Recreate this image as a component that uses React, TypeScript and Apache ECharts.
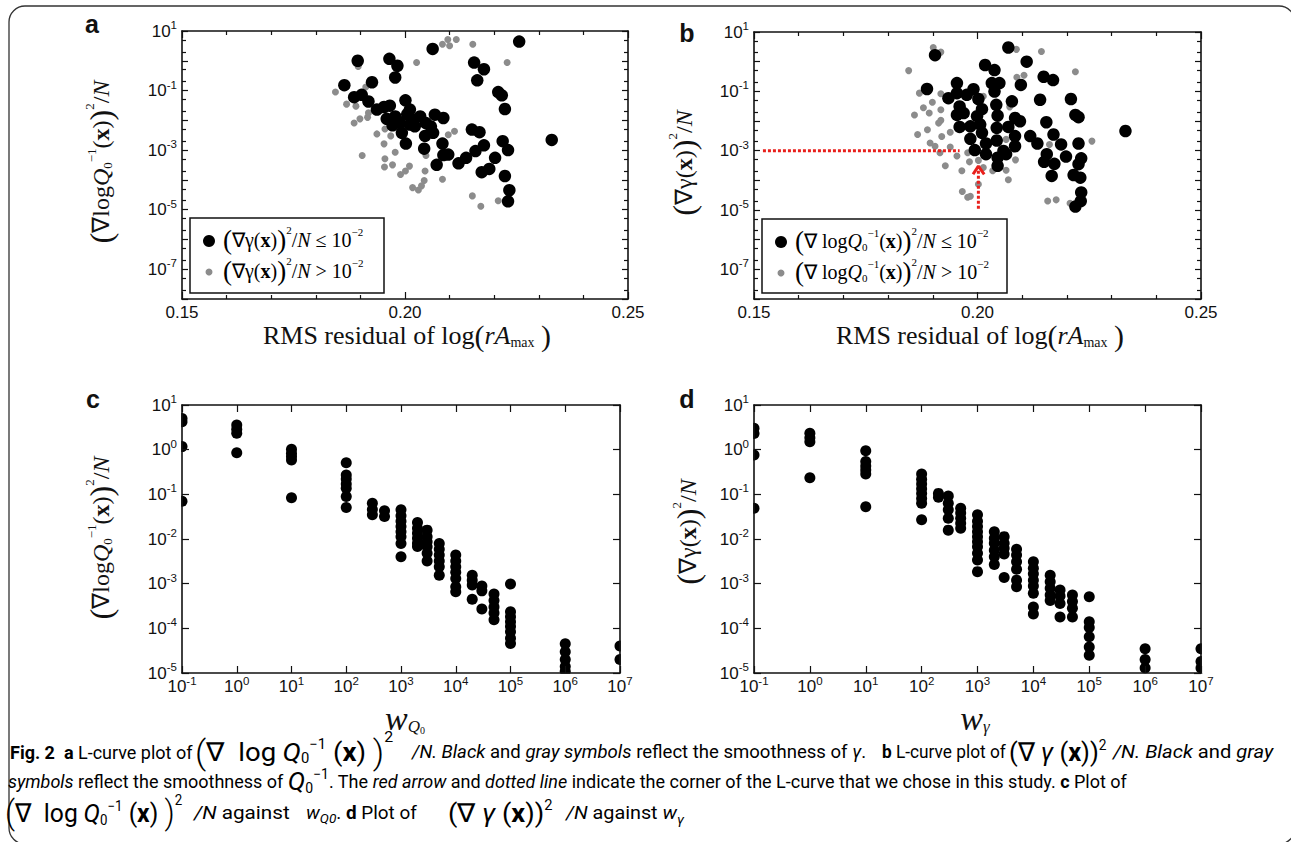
import React, { useEffect, useRef } from "react";
import * as echarts from "echarts";

const SANS = "'Liberation Sans', Arial, Helvetica, sans-serif";
const SERIF = "'Liberation Serif', 'Times New Roman', serif";
const CAP = "Roboto, 'Noto Sans', sans-serif";

// ---------- Panel a: RMS residual vs (∇logQ0^-1(x))^2/N ----------
const aBlack: number[][] = [
  [0.2256, 4.4], [0.2062, 2.5], [0.1894, 1.0], [0.1965, 1.16], [0.1983, 0.68], [0.1978, 0.275],
  [0.1926, 0.19], [0.1864, 0.152], [0.2155, 0.87], [0.2177, 0.52], [0.2162, 0.22], [0.2209, 0.089],
  [0.2217, 0.069], [0.2224, 0.024], [0.1886, 0.06], [0.1903, 0.072], [0.1918, 0.043], [0.1937, 0.023],
  [0.1953, 0.028], [0.1966, 0.031], [0.2001, 0.047], [0.1959, 0.0112], [0.1978, 0.0135], [0.1989, 0.0081],
  [0.2011, 0.023], [0.2011, 0.0072], [0.2034, 0.0135], [0.2047, 0.0081], [0.2067, 0.0155], [0.2086, 0.012],
  [0.1993, 0.0038], [0.2045, 0.003], [0.2063, 0.0038], [0.2002, 0.00166], [0.2043, 0.00112], [0.2084, 0.00166],
  [0.2086, 0.00068], [0.2097, 0.00071], [0.2071, 0.00032], [0.212, 0.00036], [0.2137, 0.00055], [0.215, 0.0049],
  [0.2167, 0.004], [0.2158, 0.00093], [0.2177, 0.00145], [0.2172, 0.000182], [0.2189, 0.000234], [0.2202, 0.00055],
  [0.2219, 0.002], [0.2231, 0.001], [0.2224, 0.000135], [0.2234, 0.000045], [0.2231, 0.000019], [0.2329, 0.0022],
  [0.2018, 0.0105], [0.1981, 0.0105], [0.2022, 0.0063], [0.1972, 0.0068], [0.2005, 0.016], [0.2058, 0.0062],
];
const aGray: number[][] = [
  [0.1844, 0.089], [0.1869, 0.035], [0.189, 0.03], [0.1886, 0.0081], [0.1899, 0.0112], [0.1916, 0.0126],
  [0.1918, 0.0178], [0.1937, 0.0035], [0.1953, 0.00162], [0.1968, 0.003], [0.1955, 0.0051], [0.1904, 0.00066],
  [0.1955, 0.00051], [0.1954, 0.00027], [0.1972, 0.00032], [0.1978, 0.00085], [0.199, 0.000151], [0.2001, 0.0002],
  [0.201, 0.00029], [0.2017, 0.000055], [0.203, 0.000046], [0.2037, 0.000063], [0.2043, 0.000096], [0.2045, 0.0002],
  [0.2047, 0.00066], [0.2084, 0.000105], [0.2097, 0.0033], [0.2111, 0.0043], [0.2151, 0.000029], [0.217, 0.000013],
  [0.2209, 0.00002], [0.1895, 0.64], [0.1912, 0.132], [0.2026, 0.87], [0.2084, 3.6], [0.2096, 5.2],
  [0.21, 3.2], [0.2115, 5.2], [0.2152, 3.6], [0.2229, 0.87],
];

// ---------- Panel b: RMS residual vs (∇γ(x))^2/N ----------
const bBlack: number[][] = [
  [0.2069, 3.0], [0.1905, 1.66], [0.211, 1.0], [0.2017, 0.77], [0.2038, 0.52], [0.1887, 0.12],
  [0.1954, 0.19], [0.2032, 0.19], [0.2049, 0.19], [0.2097, 0.165], [0.2148, 0.31], [0.2169, 0.24],
  [0.2038, 0.098], [0.1935, 0.059], [0.1954, 0.087], [0.1976, 0.076], [0.1991, 0.118], [0.2002, 0.055],
  [0.2077, 0.046], [0.214, 0.052], [0.2209, 0.055], [0.196, 0.031], [0.201, 0.025], [0.2042, 0.035],
  [0.1954, 0.016], [0.1969, 0.0185], [0.1999, 0.0145], [0.2045, 0.0151], [0.2219, 0.016], [0.2226, 0.0135],
  [0.2084, 0.0126], [0.2095, 0.0098], [0.2154, 0.0091], [0.196, 0.0063], [0.1984, 0.0066], [0.2006, 0.0076],
  [0.2043, 0.0059], [0.2069, 0.0063], [0.201, 0.004], [0.1984, 0.0025], [0.2043, 0.0022], [0.2084, 0.0031],
  [0.2118, 0.0031], [0.2134, 0.00174], [0.217, 0.0035], [0.2187, 0.00162], [0.2226, 0.00174], [0.2019, 0.00174],
  [0.2084, 0.00141], [0.1994, 0.00105], [0.2019, 0.00076], [0.2058, 0.00098], [0.2064, 0.00076], [0.2045, 0.00058],
  [0.2045, 0.00031], [0.2155, 0.00076], [0.2149, 0.00042], [0.2172, 0.00036], [0.2198, 0.00063], [0.2232, 0.00055],
  [0.2226, 0.00035], [0.2166, 0.000141], [0.2215, 0.000151], [0.223, 0.000123], [0.2232, 0.000039], [0.2231, 0.00002],
  [0.2219, 0.000013], [0.2331, 0.0046],
];
const bGray: number[][] = [
  [0.1901, 3.0], [0.1918, 2.1], [0.1846, 0.5], [0.2087, 2.6], [0.2143, 2.2], [0.2219, 0.46],
  [0.2088, 0.3], [0.2104, 0.35], [0.187, 0.087], [0.1918, 0.083], [0.1899, 0.043], [0.1879, 0.028],
  [0.1892, 0.0185], [0.1859, 0.016], [0.1918, 0.024], [0.1918, 0.0105], [0.1913, 0.0085], [0.1888, 0.0051],
  [0.1866, 0.0035], [0.192, 0.003], [0.1939, 0.0042], [0.1894, 0.00182], [0.1905, 0.00141], [0.1939, 0.00132],
  [0.1916, 0.00085], [0.1954, 0.00066], [0.1928, 0.00031], [0.1965, 0.00021], [0.1982, 0.00042], [0.1978, 0.00085],
  [0.2002, 0.00047], [0.2013, 0.00027], [0.2002, 0.000074], [0.1966, 0.000042], [0.1978, 0.000027], [0.1984, 0.000029],
  [0.2034, 0.00021], [0.2064, 0.00022], [0.2069, 0.000105], [0.2085, 0.00049], [0.2064, 0.0024], [0.2161, 0.00162],
  [0.2256, 0.0021], [0.2157, 0.00002], [0.2176, 0.000022], [0.2207, 0.000017], [0.2072, 0.03], [0.2013, 0.068],
];
// corner of the L-curve (red dotted line and arrow)
const bCornerH: number[][] = [[0.152, 0.001], [0.196, 0.001]];
const bCornerV: number[][] = [[0.2002, 0.000011], [0.2002, 0.00029]];
const bArrowHead: number[][] = [[0.199, 0.00016], [0.2002, 0.0003], [0.2015, 0.00016]];

// ---------- Panel c: w_Q0 vs (∇logQ0^-1(x))^2/N ----------
const wC = [0.1, 1, 10, 100, 300, 500, 1e3, 2e3, 3e3, 5e3, 1e4, 2e4, 3e4, 5e4, 1e5, 1e6, 1e7];
const gradC: number[][] = [
  [5.0, 4.2, 1.17, 0.07],
  [3.56, 2.86, 2.32, 0.855],
  [1.02, 0.83, 0.7, 0.59, 0.084],
  [0.51, 0.27, 0.22, 0.17, 0.136, 0.089, 0.051],
  [0.063, 0.046, 0.035],
  [0.043, 0.032],
  [0.045, 0.033, 0.025, 0.019, 0.0145, 0.0113, 0.0079, 0.004],
  [0.0234, 0.0174, 0.0134, 0.0104, 0.008, 0.0068],
  [0.0158, 0.0113, 0.0087, 0.0067, 0.0048, 0.0032],
  [0.0079, 0.0059, 0.0044, 0.0032, 0.0024, 0.00155],
  [0.0044, 0.0032, 0.0024, 0.0018, 0.0013, 0.00085, 0.00066],
  [0.00155, 0.0012, 0.00093, 0.00045],
  [0.00089, 0.00069, 0.00027],
  [0.00059, 0.00042, 0.0003, 0.00022, 0.000155],
  [0.00098, 0.000234, 0.000182, 0.000141, 0.00011, 0.000084, 0.00006, 0.000046],
  [0.000045, 0.00003, 0.00002, 0.000014, 0.000011],
  [0.00004, 0.00002],
];

// ---------- Panel d: w_γ vs (∇γ(x))^2/N ----------
const wD = [0.1, 1, 10, 100, 200, 300, 500, 1e3, 2e3, 3e3, 5e3, 1e4, 2e4, 3e4, 5e4, 1e5, 1e6, 1e7];
const gradD: number[][] = [
  [3.0, 2.3, 0.76, 0.049],
  [2.32, 1.86, 1.51, 0.236],
  [0.95, 0.54, 0.43, 0.35, 0.285, 0.053],
  [0.285, 0.217, 0.17, 0.134, 0.105, 0.081, 0.063, 0.027],
  [0.105, 0.086],
  [0.092, 0.063, 0.045, 0.029, 0.0158],
  [0.049, 0.038, 0.029, 0.0224, 0.0174],
  [0.035, 0.025, 0.019, 0.0145, 0.0113, 0.0087, 0.0067, 0.0048, 0.0034, 0.00186],
  [0.0145, 0.0104, 0.008, 0.0056, 0.004, 0.0027],
  [0.0113, 0.008, 0.0062, 0.0046, 0.00137],
  [0.0059, 0.0044, 0.0031, 0.0021, 0.0012, 0.00085],
  [0.0031, 0.0022, 0.00166, 0.0012, 0.00089, 0.00061, 0.0003, 0.00021],
  [0.00155, 0.0011, 0.00079, 0.00056, 0.00042],
  [0.00072, 0.00053, 0.00036, 0.00018],
  [0.00056, 0.0004, 0.00028, 0.00018],
  [0.00051, 0.000141, 0.000105, 0.000065, 0.000038, 0.000025],
  [0.000035, 0.00002, 0.000013],
  [0.000035, 0.000018, 0.000013],
];

// ---------- axis ranges and tick labels ----------
const rmsRange = [0.15, 0.25];
const lcRange = [1e-8, 10];
const lcLabelExps = [1, -1, -3, -5, -7];
const wRange = [0.1, 1e7];
const wLabelExps = [-1, 0, 1, 2, 3, 4, 5, 6, 7];
const gRange = [1e-5, 10];
const gLabelExps = [1, 0, -1, -2, -3, -4, -5];

const pairs = (xs: number[], ys: number[][]) => {
  const out: number[][] = [];
  xs.forEach((x, i) => ys[i].forEach((y) => out.push([x, y])));
  return out;
};

const INK = "#111";
const tickRich = {
  b: { fontFamily: SANS, fontSize: 17, lineHeight: 17, verticalAlign: "middle", color: INK },
  s: { fontFamily: SANS, fontSize: 11.5, lineHeight: 12, verticalAlign: "middle", padding: [0, 0, 12, 0], color: INK },
};
const expLabel = (allowed: number[]) => (v: number) => {
  const e = Math.round(Math.log10(v));
  return allowed.includes(e) ? `{b|10}{s|${e}}` : "";
};

function mathRich(fs: number, pf = 1.35, lh = 1.3) {
  const sm = Math.round(fs * 0.55);
  return {
    n: { fontFamily: SERIF, fontSize: fs, lineHeight: fs * lh, verticalAlign: "middle", color: INK },
    i: { fontFamily: SERIF, fontSize: fs, lineHeight: fs * lh, fontStyle: "italic", verticalAlign: "middle", color: INK },
    bx: { fontFamily: SERIF, fontSize: fs, lineHeight: fs * lh, fontWeight: "bold", verticalAlign: "middle", color: INK },
    p: { fontFamily: SERIF, fontSize: fs * pf, lineHeight: fs * pf, verticalAlign: "middle", color: INK },
    s: { fontFamily: SERIF, fontSize: sm, lineHeight: sm, verticalAlign: "middle", padding: [0, 0, fs * 0.8, 0], color: INK },
    ss: { fontFamily: SERIF, fontSize: sm, lineHeight: sm, verticalAlign: "middle", padding: [0, 0, fs * 1.0, 0], color: INK },
    sb: { fontFamily: SERIF, fontSize: sm, lineHeight: sm, verticalAlign: "middle", padding: [fs * 0.55, 0, 0, 0], color: INK },
  };
}

const grids = [
  { left: 182, top: 31, width: 446, height: 268 },
  { left: 754, top: 32, width: 447, height: 267 },
  { left: 182, top: 405, width: 438, height: 268 },
  { left: 754, top: 405, width: 447, height: 268 },
];

const axisLineStyle = { color: INK, width: 1.6 };
const tickLine = { color: INK, width: 1.2 };

function minorLogValues(lo: number, hi: number) {
  const out: number[] = [];
  for (let e = lo; e < hi; e++) out.push(2 * Math.pow(10, e), 5 * Math.pow(10, e));
  return out;
}

export default function App() {
  const ref = useRef<HTMLDivElement>(null);
  useEffect(() => {
    if (!ref.current) return;
    const chart = echarts.init(ref.current, undefined, { renderer: "svg" });

    const xAxis: any[] = [];
    const yAxis: any[] = [];
    const idx: { x: number; y: number }[] = [];

    grids.forEach((_, gi) => {
      const isLc = gi < 2;
      const xi = xAxis.length;
      const xBase: any = isLc
        ? {
            type: "value", min: rmsRange[0], max: rmsRange[1], interval: 0.05,
            minorTick: { show: true, splitNumber: 5, length: 4, lineStyle: tickLine },
          }
        : { type: "log", logBase: 10, min: wRange[0], max: wRange[1], interval: 1 };
      xAxis.push({
        ...xBase, gridIndex: gi, position: "bottom", z: 10,
        axisLine: { show: true, onZero: false, lineStyle: axisLineStyle },
        axisTick: { show: true, inside: true, length: 7, lineStyle: tickLine },
        splitLine: { show: false },
        axisLabel: isLc
          ? { margin: 5, color: INK, fontFamily: SANS, fontSize: 17, lineHeight: 17, formatter: (v: number) => v.toFixed(2) }
          : { margin: 5, formatter: expLabel(wLabelExps), rich: tickRich },
      });
      xAxis.push({
        ...xBase, gridIndex: gi, position: "top", z: 10,
        axisLine: { show: true, onZero: false, lineStyle: axisLineStyle },
        axisTick: { show: true, inside: true, length: 7, lineStyle: tickLine },
        splitLine: { show: false },
        axisLabel: { show: false },
      });
      const yi = yAxis.length;
      const yBase: any = isLc
        ? { type: "log", logBase: 10, min: lcRange[0], max: lcRange[1], interval: 1 }
        : { type: "log", logBase: 10, min: gRange[0], max: gRange[1], interval: 1 };
      yAxis.push({
        ...yBase, gridIndex: gi, position: "left", z: 10,
        axisLine: { show: true, onZero: false, lineStyle: axisLineStyle },
        axisTick: { show: true, inside: true, length: isLc ? 6 : 7, lineStyle: tickLine },
        splitLine: { show: false },
        axisLabel: { margin: 5, formatter: expLabel(isLc ? lcLabelExps : gLabelExps), rich: tickRich },
      });
      yAxis.push({
        ...yBase, gridIndex: gi, position: "right", z: 10,
        axisLine: { show: true, onZero: false, lineStyle: axisLineStyle },
        axisTick: { show: true, inside: true, length: isLc ? 6 : 7, lineStyle: tickLine },
        splitLine: { show: false },
        axisLabel: { show: false },
      });
      if (isLc) {
        const minors = minorLogValues(-8, 1);
        ["left", "right"].forEach((pos) =>
          yAxis.push({
            ...yBase, gridIndex: gi, position: pos, z: 10,
            axisLine: { show: false },
            axisTick: { show: true, inside: true, length: 4, lineStyle: tickLine, customValues: minors },
            splitLine: { show: false },
            axisLabel: { show: false },
          })
        );
      }
      idx.push({ x: xi, y: yi });
    });

    const scatter = (gi: number, data: number[][], size: number, color: string, z: number) => ({
      type: "scatter", xAxisIndex: idx[gi].x, yAxisIndex: idx[gi].y, data,
      symbol: "circle", symbolSize: size, itemStyle: { color, opacity: 1 }, z,
    });
    const redLine = (data: number[][], dotted: boolean) => ({
      type: "line", xAxisIndex: idx[1].x, yAxisIndex: idx[1].y, data, symbol: "none", z: 5,
      lineStyle: { color: "#e8201c", width: 3, type: dotted ? [3, 2] : "solid" },
    });

    const series: any[] = [
      scatter(0, aGray, 7, "#8c8c8c", 2),
      scatter(0, aBlack, 12.5, "#000", 3),
      scatter(1, bGray, 7, "#8c8c8c", 2),
      scatter(1, bBlack, 12.5, "#000", 3),
      redLine(bCornerH, true),
      redLine(bCornerV, true),
      redLine(bArrowHead, false),
      scatter(2, pairs(wC, gradC), 11, "#000", 3),
      scatter(3, pairs(wD, gradD), 11, "#000", 3),
    ];

    const r24 = mathRich(24);
    const r20 = mathRich(20);
    const rX = mathRich(26, 1.15, 1.0);

    const yTitleLogQ = "{p|(}{n|∇log}{i|Q}{sb|0}{s|−1}{n|(}{bx|x}{n|)}{p|)}{ss|2}{n|/}{i|N}";
    const yTitleGamma = "{p|(}{n|∇γ(}{bx|x}{n|)}{p|)}{ss|2}{n|/}{i|N}";

    const rotText = (x: number, y: number, text: string, rich: any) => ({
      type: "text", x, y, rotation: Math.PI / 2,
      style: { text, rich, align: "center", verticalAlign: "middle", fill: INK },
    });
    const plainText = (x: number, y: number, text: string, rich: any, align = "center") => ({
      type: "text", x, y,
      style: { text, rich, align, verticalAlign: "middle", fill: INK },
    });
    const letter = (x: number, y: number, t: string) => ({
      type: "text", x, y,
      style: { text: t, fontFamily: SANS, fontWeight: "bold", fontSize: 25, fill: INK, align: "center", verticalAlign: "bottom" },
    });

    const legend = (x: number, y: number, w: number, h: number, t1: string, t2: string) => ({
      type: "group", z: 50,
      children: [
        { type: "rect", shape: { x, y, width: w, height: h }, style: { fill: "#fff", stroke: INK, lineWidth: 1.5 } },
        { type: "circle", shape: { cx: x + 19, cy: y + 23, r: 6 }, style: { fill: "#000" } },
        { type: "circle", shape: { cx: x + 19, cy: y + 54, r: 3.5 }, style: { fill: "#8c8c8c" } },
        { type: "text", x: x + 33, y: y + 22, style: { text: t1, rich: r20, align: "left", verticalAlign: "middle" } },
        { type: "text", x: x + 33, y: y + 53, style: { text: t2, rich: r20, align: "left", verticalAlign: "middle" } },
      ],
    });

    const xTitleRms = "{n|RMS residual of log}{p|(}{i|rA}{sb|max}{n| }{p|)}";

    // white strips that trim the symbols lying on the frame of c and d
    const strips: any[] = [];
    [2, 3].forEach((gi) => {
      const g = grids[gi];
      strips.push(
        { type: "rect", z: 5, silent: true, shape: { x: g.left - 6.5, y: g.top, width: 5.7, height: g.height }, style: { fill: "#fff" } },
        { type: "rect", z: 5, silent: true, shape: { x: g.left + g.width + 0.8, y: g.top, width: 6, height: g.height }, style: { fill: "#fff" } },
        { type: "rect", z: 5, silent: true, shape: { x: g.left, y: g.top + g.height + 0.8, width: g.width, height: 4.5 }, style: { fill: "#fff" } },
      );
    });

    // caption
    const capBase = { fontFamily: CAP, fontSize: 18, lineHeight: 22, verticalAlign: "middle", color: INK };
    const mBase = { fontFamily: CAP, fontSize: 26, lineHeight: 26, verticalAlign: "middle", color: INK };
    const capRich: any = {
      r: { ...capBase },
      bd: { ...capBase, fontWeight: "bold" },
      it: { ...capBase, fontStyle: "italic" },
      m: { ...mBase },
      mi: { ...mBase, fontStyle: "italic" },
      mb: { ...mBase, fontWeight: "bold" },
      bp: { fontFamily: CAP, fontSize: 33, lineHeight: 30, verticalAlign: "middle", color: INK, fontWeight: 300 },
      ms: { fontFamily: CAP, fontSize: 14, lineHeight: 14, verticalAlign: "middle", padding: [0, 0, 15, 0], color: INK },
      ss: { fontFamily: CAP, fontSize: 15, lineHeight: 15, verticalAlign: "middle", padding: [0, 0, 30, 0], color: INK },
      ss3: { fontFamily: CAP, fontSize: 14, lineHeight: 14, verticalAlign: "middle", padding: [0, 0, 27, 0], color: INK },
      msb: { fontFamily: CAP, fontSize: 14, lineHeight: 14, verticalAlign: "middle", padding: [13, 0, 0, 0], color: INK },
      sbi: { fontFamily: CAP, fontSize: 13, lineHeight: 13, fontStyle: "italic", verticalAlign: "middle", padding: [12, 0, 0, 0], color: INK },
    };
    const capQ = (sup: string) => `{bp|(}{m|∇  log }{mi|Q}{msb|0}{ms|−1}{m| (}{mb|x}{m|) }{bp|)}{${sup}|2}`;
    const capG = "{m|(∇ }{mi|γ}{m| (}{mb|x}{m|))}{ms|2}";
    const capSegs: [number, number, string, number][] = [
      [10, 752, "{bd|Fig. 2}{r|  }{bd|a}{r| L-curve plot of}", 1],
      [195, 752, capQ("ss"), 1.06],
      [412, 752, "{it|/N. Black}{r| and }{it|gray symbols}{r| reflect the smoothness of }{it|γ}{r|.}", 1.03],
      [882, 752, "{bd|b}{r| L-curve plot of}", 0.96],
      [1009, 752, capG, 0.98],
      [1113, 752, "{it|/N. Black}{r| and }{it|gray}", 1.12],
      [8, 781, "{it|symbols}{r| reflect the smoothness of }{mi|Q}{msb|0}{ms|−1}{r|. The }{it|red arrow}{r| and }{it|dotted line}" +
        "{r| indicate the corner of the L-curve that we chose in this study. }{bd|c}{r| Plot of}", 1],
      [5, 813, capQ("ss3"), 0.95],
      [194, 813, "{it|/N}{r| against}", 1.15],
      [306, 813, "{it|w}{sbi|Q0}{r|. }{bd|d}{r| Plot of }", 1.05],
      [448, 813, capG, 1.05],
      [566, 813, "{it|/N}{r| against }{it|w}{sbi|γ}", 1.1],
    ];

    const graphic: any[] = [
      {
        type: "rect", z: -10, silent: true,
        shape: { x: 9, y: 6, width: 1286, height: 838, r: 16 },
        style: { fill: "none", stroke: "#333", lineWidth: 1.3 },
      },
      ...strips,
      letter(92, 36, "a"),
      letter(687, 45, "b"),
      letter(93, 411, "c"),
      letter(687, 411, "d"),
      rotText(101, 162, yTitleLogQ, r24),
      rotText(684, 163, yTitleGamma, r24),
      rotText(101, 538, yTitleLogQ, r24),
      rotText(688, 532, yTitleGamma, r24),
      plainText(407, 335, xTitleRms, rX),
      plainText(980, 335, xTitleRms, rX),
      plainText(405, 718, "{w|w}{q|Q}{q0|0}", {
        w: { fontFamily: SERIF, fontSize: 34, fontStyle: "italic", lineHeight: 34, verticalAlign: "middle", color: INK },
        q: { fontFamily: SERIF, fontSize: 17, fontStyle: "italic", lineHeight: 17, verticalAlign: "middle", padding: [16, 0, 0, 0], color: INK },
        q0: { fontFamily: SERIF, fontSize: 10, lineHeight: 10, verticalAlign: "middle", padding: [24, 0, 0, 0], color: INK },
      }),
      plainText(975, 718, "{w|w}{q|γ}", {
        w: { fontFamily: SERIF, fontSize: 34, fontStyle: "italic", lineHeight: 34, verticalAlign: "middle", color: INK },
        q: { fontFamily: SERIF, fontSize: 17, fontStyle: "italic", lineHeight: 17, verticalAlign: "middle", padding: [16, 0, 0, 0], color: INK },
      }),
      legend(190, 218, 194, 75,
        "{p|(}{n|∇γ(}{bx|x}{n|)}{p|)}{ss|2}{n|/}{i|N}{n| ≤ 10}{s|−2}",
        "{p|(}{n|∇γ(}{bx|x}{n|)}{p|)}{ss|2}{n|/}{i|N}{n| > 10}{s|−2}"),
      legend(762, 219, 245, 74,
        "{p|(}{n|∇ log}{i|Q}{sb|0}{s|−1}{n|(}{bx|x}{n|)}{p|)}{ss|2}{n|/}{i|N}{n| ≤ 10}{s|−2}",
        "{p|(}{n|∇ log}{i|Q}{sb|0}{s|−1}{n|(}{bx|x}{n|)}{p|)}{ss|2}{n|/}{i|N}{n| > 10}{s|−2}"),
      ...capSegs.map(([x, y, text, sx]) => ({
        type: "text", x, y, scaleX: sx,
        style: { text, rich: capRich, align: "left", verticalAlign: "middle" },
      })),
    ];

    chart.setOption({
      animation: false,
      backgroundColor: "#fff",
      grid: grids.map((g) => ({ ...g, containLabel: false })),
      xAxis, yAxis, series, graphic,
    });
    return () => chart.dispose();
  }, []);
  return <div ref={ref} style={{ position: "absolute", left: 0, top: 0, width: 1291, height: 842 }} />;
}
